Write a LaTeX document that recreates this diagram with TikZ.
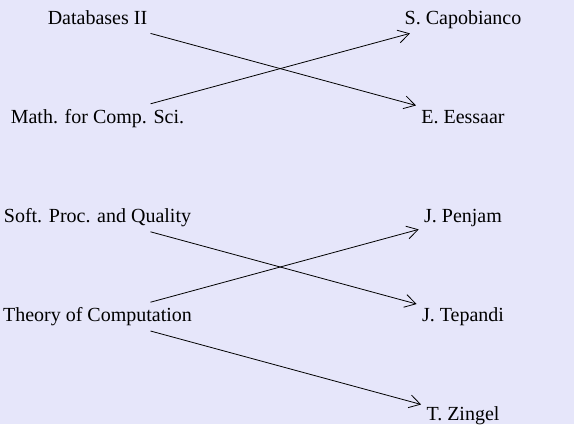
\documentclass[tikz,border=0pt]{standalone}
\usepackage{fontspec}
\setmainfont{Liberation Serif}
\usetikzlibrary{positioning}
\usetikzlibrary{arrows.meta}
\definecolor{bglav}{RGB}{230,230,250}

\begin{document}
\begin{tikzpicture}[node distance=35.2pt, common/.style={inner sep=2.5pt, text height=7pt, text depth=2pt}, >={Straight Barb[length=5.5pt,width=6.5pt]}]
\tikzstyle{course}=[common]
\tikzstyle{teacher}=[common]

\fill[bglav] (0,0) rectangle (287pt,-212pt);
\useasboundingbox (0,0) rectangle (287pt,-212pt);

% courses
\node (DB) [course] at (48.75pt, -9.5pt) {Databases II};
\node (MCS) [course, below=of DB] {Math. for Comp. Sci.};
\node (SPQ) [course, below=of MCS] {Soft. Proc. and Quality};
\node (TC) [course, below=of SPQ] {Theory of Computation};

% teachers
\node (SC) [teacher] at (231.5pt, -9.5pt) {S. Capobianco};
\node (EE) [teacher, below=of SC] {E. Eessaar};
\node (JP) [teacher, below=of EE] {J. Penjam};
\node (JT) [teacher, below=of JP] {J. Tepandi};
\node (TZ) [teacher, below=of JT] {T. Zingel};

% arriba
\draw [->] (DB) -- (EE);
\draw [->] (MCS) -- (SC);

% abajo
\draw [->] (SPQ) -- (JT);
\draw [->] (TC) -- (JP);
\draw [->] (TC) -- (TZ);
\end{tikzpicture}
\end{document}
